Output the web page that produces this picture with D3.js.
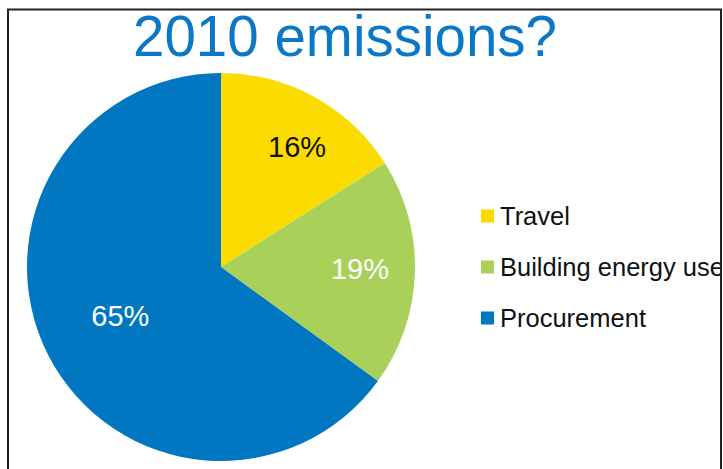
<!DOCTYPE html>
<html lang="en">
<head>
  <meta charset="UTF-8" />
  <title>2010 emissions</title>
  <script src="https://d3js.org/d3.v7.min.js"></script>
  <style>
    * { margin: 0; padding: 0; box-sizing: border-box; }
    body { background: #fff; overflow: hidden; }
    text { font-family: "Liberation Sans", Arial, sans-serif; }
  </style>
</head>
<body>
  <script>
    // data
    const title = '2010 emissions?';
    const categories = ['Travel', 'Building energy use', 'Procurement'];
    const shares = [16, 19, 65];
    const colors = ['#FBDB00', '#A9D15A', '#0077C0'];
    const labelColors = ['#111', '#fff', '#fff'];

    const [w, h] = [723, 469];
    const [cx, cy, r] = [221, 267, 194];

    const svg = d3.select('body').append('svg')
      .attr('width', w)
      .attr('height', h);

    // the slide is cut off on the right, legend text runs under the frame
    svg.append('clipPath').attr('id', 'slide')
      .append('rect')
      .attr('x', 0).attr('y', 0)
      .attr('width', 720).attr('height', h);

    // title
    svg.append('text')
      .attr('x', 345)
      .attr('y', 56)
      .attr('text-anchor', 'middle')
      .attr('fill', '#0A78C6')
      .style('font-size', '56.5px')
      .text(title);

    // pie
    const pie = d3.pie().sort(null).value(d => d);
    const arcs = pie(shares);
    const arc = d3.arc().innerRadius(0).outerRadius(r);

    const g = svg.append('g').attr('transform', `translate(${cx},${cy})`);
    g.selectAll('path.slice')
      .data(arcs)
      .join('path')
      .attr('class', 'slice')
      .attr('d', arc)
      .attr('fill', (d, i) => colors[i]);

    // labels: placed a bit differently per slice, like the original
    const labelR = [135, 139, 113];
    const labelDx = [11, 0, 0];
    g.selectAll('text.pct')
      .data(arcs)
      .join('text')
      .attr('class', 'pct')
      .attr('transform', (d, i) => {
        const a = (d.startAngle + d.endAngle) / 2;
        return `translate(${Math.sin(a) * labelR[i] + labelDx[i]},${-Math.cos(a) * labelR[i] + 8})`;
      })
      .attr('text-anchor', 'middle')
      .attr('fill', (d, i) => labelColors[i])
      .style('font-size', '29px')
      .text(d => d.data + '%');

    // legend
    const ly = d3.scaleBand()
      .domain(categories)
      .range([190, 343]);

    const leg = svg.append('g')
      .attr('clip-path', 'url(#slide)')
      .selectAll('g')
      .data(categories)
      .join('g')
      .attr('transform', d => `translate(481,${ly(d) + ly.bandwidth() / 2})`);

    leg.append('rect')
      .attr('x', 0)
      .attr('y', -6)
      .attr('width', 13)
      .attr('height', 13)
      .attr('fill', (d, i) => colors[i]);

    leg.append('text')
      .attr('x', 19)
      .attr('y', 9)
      .attr('fill', '#111')
      .style('font-size', '25.5px')
      .text(d => d);

    // frame of the slide
    svg.append('path')
      .attr('d', `M8,${h + 2} L8,9.5 L721,9.5 L721,${h + 2}`)
      .attr('fill', 'none')
      .attr('stroke', '#222')
      .attr('stroke-width', 2);
  </script>
</body>
</html>
